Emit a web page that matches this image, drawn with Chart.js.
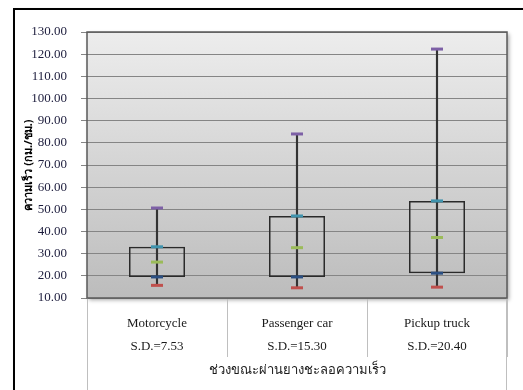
<!DOCTYPE html>
<html>
<head>
<meta charset="utf-8">
<script src="https://cdn.jsdelivr.net/npm/chart.js@4"></script>
<style>
  html, body { margin: 0; padding: 0; width: 523px; height: 390px; overflow: hidden; background: #fff; }
  #frame { position: absolute; left: 13px; top: 8px; width: 1000px; height: 1000px; border: 2px solid #000; box-shadow: 1px 1px 2px rgba(0,0,0,0.25); }
  #speedChart { position: absolute; left: 0; top: 0; }
</style>
</head>
<body>
<div id="frame"></div>
<canvas id="speedChart" width="523" height="390"></canvas>
<script>
const categories = ["Motorcycle", "Passenger car", "Pickup truck"];
const sdLabels = ["S.D.=7.53", "S.D.=15.30", "S.D.=20.40"];
const maxVals = [50.6, 84.0, 122.3];
const q3Vals = [33.1, 47.0, 53.8];
const meanVals = [26.2, 32.7, 37.3];
const q1Vals = [19.5, 19.5, 21.2];
const minVals = [15.7, 14.6, 14.9];

const serif = "'Liberation Serif', 'Times New Roman', serif";

// plot area fill, border and the long category separators
const plotArea = {
  id: "plotArea",
  beforeDraw(chart) {
    const { ctx, chartArea: a } = chart;
    ctx.save();
    ctx.shadowColor = "rgba(0,0,0,0.35)";
    ctx.shadowBlur = 4;
    ctx.shadowOffsetX = 2;
    ctx.shadowOffsetY = 2;
    const grad = ctx.createLinearGradient(0, a.top, 0, a.bottom);
    grad.addColorStop(0, "#ededed");
    grad.addColorStop(1, "#bcbcbc");
    ctx.fillStyle = grad;
    ctx.fillRect(a.left, a.top, a.right - a.left, a.bottom - a.top);
    ctx.restore();
  },
  afterDraw(chart) {
    const { ctx, chartArea: a } = chart;
    const x = chart.scales.x;
    ctx.save();
    ctx.strokeStyle = "#bfbfbf";
    ctx.lineWidth = 1;
    ctx.beginPath();
    ctx.moveTo(Math.round(x.left) + 0.5, x.top);
    ctx.lineTo(Math.round(x.left) + 0.5, chart.height);
    ctx.moveTo(Math.round(x.right) - 0.5, x.top);
    ctx.lineTo(Math.round(x.right) - 0.5, chart.height);
    ctx.stroke();
    ctx.strokeStyle = "#5a5a5a";
    ctx.lineWidth = 1.5;
    ctx.strokeRect(a.left, a.top, a.right - a.left, a.bottom - a.top);
    ctx.restore();
  },
};

function marker(label, data, color) {
  return {
    type: "line",
    label,
    data,
    showLine: false,
    pointStyle: "line",
    pointRadius: 6,
    pointBorderWidth: 3,
    pointBorderColor: color,
    pointBackgroundColor: color,
    order: 0,
  };
}

new Chart(document.getElementById("speedChart"), {
  type: "bar",
  data: {
    labels: categories.map((c, i) => [c, sdLabels[i]]),
    datasets: [
      {
        label: "box",
        data: q1Vals.map((v, i) => [v, q3Vals[i]]),
        backgroundColor: "rgba(0,0,0,0)",
        borderColor: "#2a2a2a",
        borderWidth: 1.5,
        borderSkipped: false,
        barPercentage: 0.4,
        categoryPercentage: 1,
        grouped: false,
        order: 2,
      },
      {
        label: "range",
        data: minVals.map((v, i) => [v, maxVals[i]]),
        backgroundColor: "#333",
        barThickness: 1.5,
        grouped: false,
        order: 1,
      },
      marker("max", maxVals, "#7d60a6"),
      marker("Q3", q3Vals, "#3f93ad"),
      marker("mean", meanVals, "#9bbb59"),
      marker("Q1", q1Vals, "#2b4f82"),
      marker("min", minVals, "#c0504d"),
    ],
  },
  options: {
    responsive: false,
    animation: false,
    layout: { padding: { top: 32, right: 16, bottom: 0, left: 0 } },
    plugins: { legend: { display: false }, tooltip: { enabled: false } },
    scales: {
      x: {
        offset: true,
        afterFit: (s) => { s.height = 92; },
        border: { display: false },
        grid: { drawOnChartArea: false, drawTicks: true, tickLength: 59, color: "#bfbfbf", offset: true },
        ticks: { padding: -44, color: "#1a1a1a", font: { family: serif, size: 13, lineHeight: 1.7 }, maxRotation: 0 },
        title: {
          display: true,
          text: "ช่วงขณะผ่านยางชะลอความเร็ว",
          color: "#1a1a1a",
          font: { family: "'Noto Sans', 'DejaVu Sans', sans-serif", size: 13 },
          padding: { top: 0, bottom: 12 },
        },
      },
      y: {
        min: 10,
        max: 130,
        afterFit: (s) => { s.width = 87; },
        border: { display: false },
        grid: { color: "#858585", lineWidth: 1, tickLength: 6 },
        ticks: {
          stepSize: 10,
          padding: 14,
          color: "#1c1c3c",
          font: { family: serif, size: 13 },
          callback: (v) => v.toFixed(2),
        },
        title: {
          display: true,
          text: "ความเร็ว (กม./ชม.)",
          color: "#000",
          font: { family: "'Noto Sans', 'DejaVu Sans', sans-serif", size: 11, weight: "bold" },
          padding: { top: 22, bottom: 0 },
        },
      },
    },
  },
  plugins: [plotArea],
});
</script>
</body>
</html>
